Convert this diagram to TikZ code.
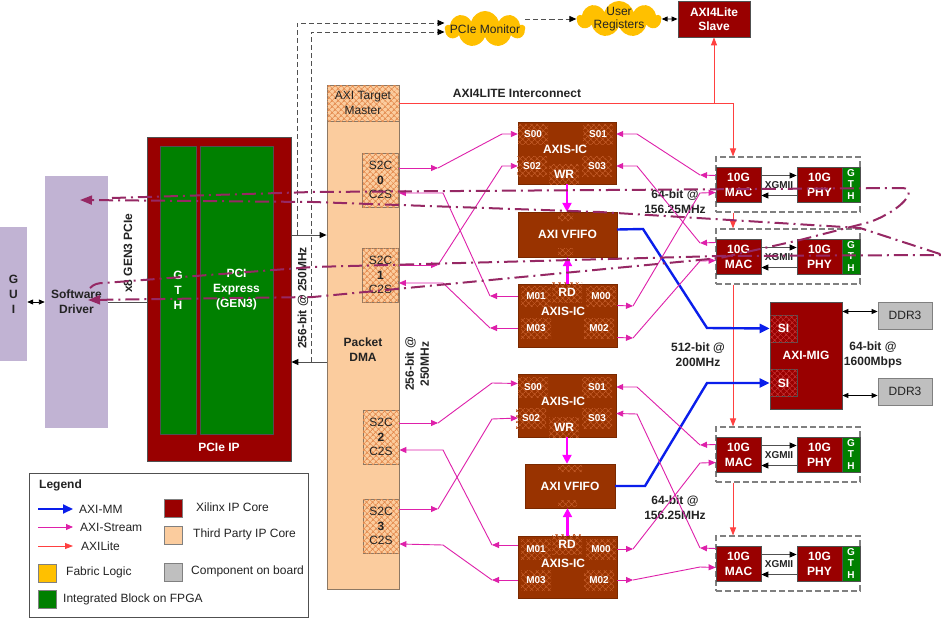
\documentclass[tikz,border=0pt]{standalone}
\usepackage{fontspec}
\setmainfont{Liberation Sans}
\usepackage{tikz}
\usetikzlibrary{arrows.meta,shapes.symbols,patterns.meta}

\definecolor{xilred}{RGB}{153,0,0}
\definecolor{sihatch}{RGB}{195,45,45}
\definecolor{icbrown}{RGB}{153,51,0}
\definecolor{ichatch}{RGB}{192,88,38}
\definecolor{fpgagreen}{RGB}{0,128,0}
\definecolor{peach}{RGB}{251,204,158}
\definecolor{peachhatch}{RGB}{228,140,80}
\definecolor{dmaedge}{RGB}{140,120,100}
\definecolor{lavender}{RGB}{193,179,211}
\definecolor{fabric}{RGB}{255,192,0}
\definecolor{boardgray}{RGB}{191,191,191}
\definecolor{streamcol}{RGB}{222,32,170}
\definecolor{fifocol}{RGB}{255,0,255}
\definecolor{litecol}{RGB}{255,64,64}
\definecolor{mmcol}{RGB}{10,30,235}
\definecolor{loopcol}{RGB}{150,40,100}
\definecolor{edgegray}{RGB}{80,80,80}
\definecolor{txtgray}{RGB}{35,35,35}

\tikzset{
  every node/.style={inner sep=0pt, text=txtgray, font=\fontsize{12}{14}\selectfont},
  boldtxt/.style={font=\fontsize{12}{15}\selectfont\bfseries, align=center},
  whitetxt/.style={text=white, font=\fontsize{12}{15}\selectfont\bfseries, align=center},
  xilbox/.style={whitetxt, draw=edgegray, line width=0.8pt, fill=xilred},
  fpgabox/.style={whitetxt, draw=edgegray, line width=0.6pt, fill=fpgagreen},
  gthbox/.style={fpgabox, minimum width=18pt, minimum height=35pt, font=\fontsize{10}{11.5}\selectfont\bfseries},
  macbox/.style={xilbox, minimum width=45pt, minimum height=35pt},
  grpbox/.style={draw=gray, line width=1.1pt, dash pattern=on 6pt off 3pt, minimum width=144pt, minimum height=55pt},
  hostbox/.style={boldtxt, fill=lavender},
  dmabox/.style={draw=dmaedge, line width=0.8pt, fill=peach},
  dmahatch/.style={dmabox, align=center, font=\fontsize{12}{14.5}\selectfont,
    postaction={pattern={Hatch[angle=45,distance=4pt,line width=0.9pt]}, pattern color=peachhatch}},
  icbox/.style={whitetxt, fill=icbrown, draw=icbrown!80!black, line width=0.4pt},
  port/.style={whitetxt, font=\fontsize{10}{12}\selectfont\bfseries, minimum width=30pt, minimum height=20pt,
    pattern={Hatch[angle=45,distance=4pt,line width=0.7pt]}, pattern color=ichatch},
  sibox/.style={whitetxt, draw=edgegray, line width=0.6pt, fill=xilred, minimum size=27pt,
    postaction={pattern={Hatch[angle=45,distance=4pt,line width=0.7pt]}, pattern color=sihatch}},
  ddrbox/.style={draw=gray, line width=0.8pt, fill=boardgray, minimum width=54pt, minimum height=27pt},
  cloudy/.style={cloud, cloud puffs=9, cloud puff arc=150, fill=fabric, minimum width=80pt, minimum height=36pt},
  swatch/.style={draw=gray, line width=0.8pt, minimum size=18pt},
  stream/.style={draw=streamcol, line width=0.9pt, -{Triangle[length=7pt,width=6pt]}},
  fifo/.style={draw=fifocol, line width=2.2pt, -{Triangle[length=9pt,width=9pt]}},
  mm/.style={draw=mmcol, line width=2.4pt, -{Triangle[length=10pt,width=9pt]}},
  lite/.style={draw=litecol, line width=0.9pt, -{Triangle[length=8pt,width=6pt]}},
  blk/.style={draw=edgegray, line width=0.9pt, -{Triangle[length=7pt,width=6pt,color=black]}},
  blkboth/.style={draw=black, line width=0.9pt, {Triangle[length=6pt,width=5pt]}-{Triangle[length=6pt,width=5pt]}},
  mondash/.style={draw=edgegray, line width=0.9pt, dash pattern=on 5pt off 3pt, -{Triangle[length=7pt,width=6pt,color=black]}},
  thinline/.style={draw=edgegray, line width=0.9pt},
  flow/.style={draw=loopcol, line width=2pt, dash pattern=on 14pt off 5pt on 2pt off 5pt, -{Triangle[length=12pt,width=9pt]}}
}

\begin{document}
\begin{tikzpicture}[x=1pt,y=-1pt]
\useasboundingbox[fill=white] (0,0) rectangle (945,618);
% host side
\node[hostbox, minimum width=27pt, minimum height=134pt] (gui) at (13.5,294) {G\\U\\I};
\node[hostbox, minimum width=63pt, minimum height=252pt] (drv) at (76.5,302) {Software\\Driver};
% PCIe IP
\node[xilbox, minimum width=144pt, minimum height=324pt] (pcie) at (219,299) {};
\node[fpgabox, minimum width=36pt, minimum height=288pt] (gth) at (178,290) {G\\T\\H};
\node[fpgabox, minimum width=73pt, minimum height=288pt] (pcix) at (236.5,290) {PCI\\Express\\(GEN3)};
\node[whitetxt] (pcielbl) at (219,447) {PCIe IP};
\node[boldtxt, rotate=90] (lanes) at (128,253) {x8 GEN3 PCIe};
\node[boldtxt, rotate=90] (pciebw) at (303,298) {256-bit @ 250MHz};
% packet DMA
\node[dmabox, minimum width=72pt, minimum height=504pt] (dma) at (363,337) {};
\node[dmahatch, minimum width=72pt, minimum height=36pt] (atm) at (363,103) {AXI Target\\Master};
\node[boldtxt] (dmalbl) at (363,350) {Packet\\DMA};
\node[dmahatch, minimum width=36pt, minimum height=54pt] (ch0) at (380.5,180) {S2C\\\textbf{0}\\C2S};
\node[dmahatch, minimum width=36pt, minimum height=54pt] (ch1) at (380.5,275) {S2C\\\textbf{1}\\C2S};
\node[dmahatch, minimum width=36pt, minimum height=54pt] (ch2) at (381,437) {S2C\\\textbf{2}\\C2S};
\node[dmahatch, minimum width=36pt, minimum height=54pt] (ch3) at (381,526) {S2C\\\textbf{3}\\C2S};
\node[boldtxt, rotate=90] (dmabw) at (417,364) {256-bit @\\250MHz};
% monitor, registers
\node[cloudy] (mon) at (485,29) {};
\node (montxt) at (485,29) {PCIe Monitor};
\node[cloudy, minimum width=84pt, minimum height=36pt] (ureg) at (619,19) {};
\node[align=center, font=\fontsize{12}{13}\selectfont] (uregtxt) at (619,19) {User\\Registers};
\node[xilbox, minimum width=72pt, minimum height=36pt, font=\fontsize{12}{14}\selectfont\bfseries] (slave) at (714,19) {AXI4Lite\\Slave};
\node[boldtxt] (litelbl) at (517,93) {AXI4LITE Interconnect};
% upper AXIS-IC pair
\node[icbox, minimum width=98pt, minimum height=62pt] (wr0) at (567,153) {};
\node[icbox, minimum width=99pt, minimum height=45pt] (vf0) at (567.5,234.5) {AXI VFIFO};
\node[icbox, minimum width=99pt, minimum height=63pt] (rd0) at (567.5,315.5) {};
\node[port] (s00a) at (533,134) {S00};
\node[port] (s01a) at (598,134) {S01};
\node[port] (s02a) at (532,166) {S02};
\node[port] (s03a) at (597,166) {S03};
\node[port, font=\fontsize{12}{14}\selectfont\bfseries] (wra) at (564,174) {WR};
\node[whitetxt] (wr0t) at (565,149) {AXIS-IC};
\node[port] (m01a) at (536,296) {M01};
\node[port] (m00a) at (601,296) {M00};
\node[port] (m03a) at (536,328) {M03};
\node[port] (m02a) at (599,328) {M02};
\node[port, font=\fontsize{12}{14}\selectfont\bfseries] (rda) at (567,292) {RD};
\node[whitetxt] (rd0t) at (563,311) {AXIS-IC};
% lower AXIS-IC pair
\node[icbox, minimum width=98pt, minimum height=63pt] (wr1) at (567,405.5) {};
\node[icbox, minimum width=90pt, minimum height=44pt] (vf1) at (570,486) {AXI VFIFO};
\node[icbox, minimum width=99pt, minimum height=62pt] (rd1) at (567.5,567) {};
\node[port] (s00b) at (533,387) {S00};
\node[port] (s01b) at (597,387) {S01};
\node[port] (s02b) at (531,418) {S02};
\node[port] (s03b) at (597,418) {S03};
\node[port, font=\fontsize{12}{14}\selectfont\bfseries] (wrb) at (564,427) {WR};
\node[whitetxt] (wr1t) at (563,401) {AXIS-IC};
\node[port] (m01b) at (536,549) {M01};
\node[port] (m00b) at (601,549) {M00};
\node[port] (m03b) at (536,580) {M03};
\node[port] (m02b) at (599,580) {M02};
\node[port, font=\fontsize{12}{14}\selectfont\bfseries] (rdb) at (567,544) {RD};
\node[whitetxt] (rd1t) at (563,563) {AXIS-IC};
\path[pattern={Hatch[angle=45,distance=4pt,line width=0.7pt]}, pattern color=ichatch] (558,213) rectangle (573,221) (558,248) rectangle (573,256) (558,465) rectangle (582,472) (558,500) rectangle (577,507);
% 10G ports
\node[grpbox] (grp0) at (788,184.5) {};
\node[macbox] (mac0) at (738.5,184.5) {10G\\MAC};
\node[macbox] (phy0) at (819.5,184.5) {10G\\PHY};
\node[gthbox] (gtx0) at (851,184.5) {G\\T\\H};
\node[grpbox] (grp1) at (788,256.5) {};
\node[macbox] (mac1) at (738.5,256.5) {10G\\MAC};
\node[macbox] (phy1) at (819.5,256.5) {10G\\PHY};
\node[gthbox] (gtx1) at (851,256.5) {G\\T\\H};
\node[grpbox] (grp2) at (788,454.5) {};
\node[macbox] (mac2) at (738.5,454.5) {10G\\MAC};
\node[macbox] (phy2) at (819.5,454.5) {10G\\PHY};
\node[gthbox] (gtx2) at (851,454.5) {G\\T\\H};
\node[grpbox] (grp3) at (788,563.5) {};
\node[macbox] (mac3) at (738.5,563.5) {10G\\MAC};
\node[macbox] (phy3) at (819.5,563.5) {10G\\PHY};
\node[gthbox] (gtx3) at (851,563.5) {G\\T\\H};
\node[font=\fontsize{10}{12}\selectfont\bfseries] (xg0) at (779,185) {XGMII};
\node[font=\fontsize{10}{12}\selectfont\bfseries] (xg1) at (779,257) {XGMII};
\node[font=\fontsize{10}{12}\selectfont\bfseries] (xg2) at (779,455) {XGMII};
\node[font=\fontsize{10}{12}\selectfont\bfseries] (xg3) at (779,564) {XGMII};
\node[boldtxt] (ethbw0) at (675,202) {64-bit @\\156.25MHz};
\node[boldtxt] (ethbw1) at (675,508) {64-bit @\\156.25MHz};
% memory
\node[xilbox, minimum width=72pt, minimum height=107pt] (mig) at (806,355.5) {AXI-MIG};
\node[sibox] (si0) at (783.5,328.5) {SI};
\node[sibox] (si1) at (783.5,383) {SI};
\node[ddrbox] (ddr0) at (905,315.5) {DDR3};
\node[ddrbox] (ddr1) at (905,391.5) {DDR3};
\node[boldtxt] (ddrbw) at (873,355) {64-bit @\\1600Mbps};
\node[boldtxt] (mmbw) at (698,355) {512-bit @\\200MHz};
% host links
\draw[blkboth] (gui.east |- drv.west) -- (drv.west);
\draw[thinline] (drv.east) -- (drv.east -| pcie.west);
\coordinate (pcieout) at ([yshift=64pt]pcie.east);
\coordinate (pciein) at ([yshift=-63pt]pcie.east);
\coordinate (tapin) at ([xshift=6pt,yshift=64pt]pcie.east);
\coordinate (tapout) at ([xshift=20pt,yshift=-63pt]pcie.east);
\draw[blk] (pcieout) -- (pcieout -| dma.west);
\draw[blk] (pciein -| dma.west) -- (pciein);
\draw[mondash] (tapin) |- ([yshift=6pt]mon.west);
\draw[mondash] (tapout) |- ([yshift=-3pt]mon.west);
\draw[mondash] (mon.east |- ureg.west) -- (ureg.west);
\draw[blkboth] (ureg.east) -- (slave.west);
% AXI4Lite
\draw[lite] (atm.east) -| ([xshift=-55pt]grp0.north);
\draw[lite] (slave.south |- atm.east) -- (slave.south);
\draw[lite] ([xshift=-55pt]grp0.south) -- ([xshift=-55pt]grp1.north);
\draw[lite] ([xshift=-55pt]grp1.south) -- ([xshift=-55pt]grp2.north);
\draw[lite] ([xshift=-55pt]grp2.south) -- ([xshift=-55pt]grp3.north);
% XGMII
\draw[blk] ([yshift=9pt]mac0.east) -- ([yshift=9pt]phy0.west);
\draw[blk] ([yshift=-11pt]phy0.west) -- ([yshift=-11pt]mac0.east);
\draw[blk] ([yshift=9pt]mac1.east) -- ([yshift=9pt]phy1.west);
\draw[blk] ([yshift=-11pt]phy1.west) -- ([yshift=-11pt]mac1.east);
\draw[blk] ([yshift=9pt]mac2.east) -- ([yshift=9pt]phy2.west);
\draw[blk] ([yshift=-11pt]phy2.west) -- ([yshift=-11pt]mac2.east);
\draw[blk] ([yshift=9pt]mac3.east) -- ([yshift=9pt]phy3.west);
\draw[blk] ([yshift=-11pt]phy3.west) -- ([yshift=-11pt]mac3.east);
% memory links
\coordinate (ddr0p) at ([yshift=4pt]ddr0.west);
\coordinate (ddr1p) at ([yshift=-4pt]ddr1.west);
\draw[blkboth] (ddr0p -| mig.east) -- (ddr0p);
\draw[blkboth] (ddr1p -| mig.east) -- (ddr1p);
\draw[mm] ([yshift=5pt]vf0.east) -- (643,229) -- (707,328) -- (si0.west);
\draw[mm] (vf1.east) -- (645,486) -- (707,383) -- (si1.west);
% VFIFO
\draw[fifo] (wr0.south) -- (wr0.south |- vf0.north);
\draw[fifo] (rd0.north) -- (rd0.north |- vf0.south);
\draw[fifo] (wr1.south) -- (wr1.south |- vf1.north);
\draw[fifo] (rd1.north) -- (rd1.north |- vf1.south);
% AXI-Stream upper
\draw[stream] ([yshift=12pt]ch0.east) -- (438,168);
\draw[stream] (438,168) -- (502,134) -- (wr0.west |- s00a);
\draw[stream] ([yshift=10pt]ch1.east) -- (438,265);
\draw[stream] (438,265) -- (502,166) -- (wr0.west |- s02a);
\draw[stream] (rd0.west |- m01a) -- (490,296);
\draw[stream] (490,296) -- (443,193) -- ([yshift=-13pt]ch0.east);
\draw[stream] (rd0.west |- m03a) -- (490,328);
\draw[stream] (490,328) -- (443,283) -- ([yshift=-8pt]ch1.east);
\draw[stream] ([yshift=9pt]mac0.west) -- (700,175);
\draw[stream] (700,175) -- (637,134) -- (wr0.east |- s01a);
\draw[stream] ([yshift=14pt]mac1.west) -- (700,243);
\draw[stream] (700,243) -- (637,166) -- (wr0.east |- s03a);
\draw[stream] ([yshift=10pt]rd0.east) -- (633,306);
\draw[stream] (633,306) -- (700,193) -- ([yshift=-8pt]mac0.west);
\draw[stream] ([yshift=-22pt]rd0.east) -- (633,338);
\draw[stream] (633,338) -- (700,261) -- ([yshift=-4pt]mac1.west);
% AXI-Stream lower
\draw[stream] ([yshift=14pt]ch2.east) -- (438,423);
\draw[stream] (438,423) -- (492,383) -- ([yshift=22pt]wr1.west);
\draw[stream] ([yshift=17pt]ch3.east) -- (438,509);
\draw[stream] (438,509) -- (492,419) -- (wr1.west |- s02b);
\draw[stream] ([yshift=22pt]rd1.west) -- (492,545);
\draw[stream] (492,545) -- (443,450) -- ([yshift=-13pt]ch2.east);
\draw[stream] (rd1.west |- m03b) -- (492,580);
\draw[stream] (492,580) -- (443,545) -- ([yshift=-18pt]ch3.east);
\draw[stream] ([yshift=10pt]mac2.west) -- (700,445);
\draw[stream] (700,445) -- (637,387) -- (wr1.east |- s01b);
\draw[stream] ([yshift=15pt]mac3.west) -- (700,548);
\draw[stream] (700,548) -- (637,414) -- ([yshift=-8pt]wr1.east);
\draw[stream] (rd1.east |- m00b) -- (633,549);
\draw[stream] (633,549) -- (700,463) -- ([yshift=-8pt]mac2.west);
\draw[stream] (rd1.east |- m02b) -- (633,580);
\draw[stream] (633,580) -- (700,567) -- ([yshift=-4pt]mac3.west);
% loopback data paths
\draw[flow] (90,288) .. controls (94,284) and (98,283) .. (104,283) -- (313,267) -- (720,256) -- (943,255) -- (860,228) -- (600,212) -- (313,202) -- (80,200);
\draw[flow] (112,198) -- (313,192) -- (903,188) .. controls (918,190) and (902,210) .. (870,222) -- (800,240) -- (720,258) -- (313,297) -- (88,300);
% legend
\node[draw=edgegray, line width=0.8pt, minimum width=279pt, minimum height=144pt] (leg) at (168.5,545) {};
\node[boldtxt, anchor=west] (legt) at (39,485) {Legend};
\node[anchor=west] (lmm) at (79,509) {AXI-MM};
\node[anchor=west] (lst) at (80,527) {AXI-Stream};
\node[anchor=west] (llt) at (81,546) {AXILite};
\draw[mm, line width=2pt] ([xshift=-41pt]lmm.west) -- ([xshift=-6pt]lmm.west);
\draw[stream] ([xshift=-42pt]lst.west) -- ([xshift=-7pt]lst.west);
\draw[lite] ([xshift=-43pt]llt.west) -- ([xshift=-8pt]llt.west);
\node[swatch, fill=fabric] (swfab) at (47,573) {};
\node[anchor=west] (lfab) at (66,572) {Fabric Logic};
\node[swatch, fill=fpgagreen] (swint) at (47,599.5) {};
\node[anchor=west] (lint) at (63,599) {Integrated Block on FPGA};
\node[swatch, fill=xilred] (swxil) at (173.5,508) {};
\node[anchor=west] (lxil) at (196,507) {Xilinx IP Core};
\node[swatch, fill=peach] (swtp) at (173.5,535) {};
\node[anchor=west] (ltp) at (193,534) {Third Party IP Core};
\node[swatch, fill=boardgray] (swbrd) at (173.5,572) {};
\node[anchor=west] (lbrd) at (191,571) {Component on board};
\end{tikzpicture}
\end{document}
